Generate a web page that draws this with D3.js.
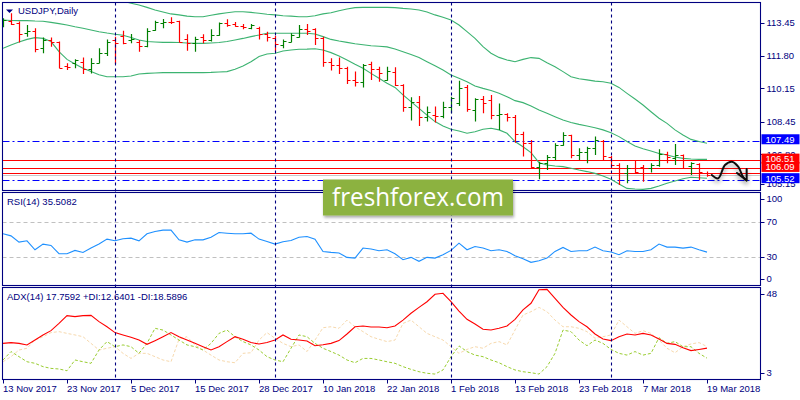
<!DOCTYPE html>
<html>
<head>
<meta charset="utf-8">
<title>USDJPY Daily</title>
<script src="https://cdn.jsdelivr.net/npm/d3@7"></script>
<style>
  body { margin: 0; background: #fff; }
  svg { display: block; font-family: 'Liberation Sans', Arial, sans-serif; }
  .axis-label { fill: #000080; font-size: 9.5px; }
  .panel-title { fill: #000080; font-size: 9.5px; }
  .price-box-label { fill: #fff; font-size: 9.5px; }
</style>
</head>
<body>
<svg id="chart"></svg>
<script>
// Values (13 Nov 2017 - 19 Mar 2018)
const symbolTitle = 'USDJPY,Daily';
const firstDay = '2017-11-13';
const marketHolidays = ['2017-12-25', '2018-01-01'];
const dateTickLabels = ['13 Nov 2017', '23 Nov 2017', '5 Dec 2017', '15 Dec 2017', '28 Dec 2017',
  '10 Jan 2018', '22 Jan 2018', '1 Feb 2018', '13 Feb 2018', '23 Feb 2018', '7 Mar 2018', '19 Mar 2018'];

const opens = [113.40, 113.57, 113.47, 112.93, 113.06, 112.17, 112.59, 112.51, 111.27, 111.41,
  111.49, 111.11, 111.44, 111.92, 112.59, 112.81, 112.59, 112.51, 112.29, 113.10,
  113.47, 113.52, 113.57, 112.62, 112.42, 112.76, 112.59, 112.84, 113.43, 113.40,
  113.32, 113.18, 113.18, 112.88, 112.71, 112.34, 112.51, 112.76, 113.13, 113.13,
  112.67, 111.46, 111.32, 111.16, 110.57, 110.48, 111.38, 111.12, 110.57, 110.99,
  110.31, 109.22, 109.47, 108.71, 108.79, 108.74, 109.18, 109.38, 110.19, 109.05,
  109.59, 109.55, 108.79, 108.85, 108.71, 107.83, 107.36, 106.18, 106.35, 106.69,
  107.28, 107.78, 106.77, 106.94, 107.11, 107.50, 106.69, 106.26, 105.84, 106.10,
  106.18, 106.10, 106.26, 106.82, 106.60, 106.77, 106.23, 106.31, 105.88];
const highs = [113.69, 113.94, 113.52, 113.35, 113.18, 112.71, 112.71, 112.52, 111.41, 111.61,
  111.71, 111.66, 112.17, 112.62, 112.76, 113.06, 112.89, 112.59, 113.18, 113.57,
  113.65, 113.74, 113.57, 112.88, 112.76, 112.88, 113.13, 113.48, 113.64, 113.50,
  113.40, 113.40, 113.26, 113.01, 112.79, 112.62, 112.93, 113.35, 113.40, 113.18,
  112.76, 111.66, 111.71, 111.24, 110.99, 111.38, 111.49, 111.24, 111.24, 111.21,
  110.35, 109.69, 109.76, 109.22, 109.22, 109.47, 109.72, 110.53, 110.31, 109.64,
  109.76, 109.81, 109.38, 108.88, 108.79, 107.95, 107.53, 106.43, 106.77, 107.36,
  107.92, 107.80, 107.11, 107.19, 107.70, 107.53, 106.72, 106.35, 106.26, 106.48,
  106.26, 106.35, 107.06, 106.94, 107.33, 106.80, 106.40, 106.35, 105.93];
const lows = [113.23, 113.35, 112.46, 112.76, 111.97, 111.92, 112.25, 111.16, 111.07, 111.16,
  110.87, 110.90, 111.41, 111.78, 111.38, 112.37, 112.42, 112.00, 112.22, 113.06,
  113.18, 113.40, 112.46, 112.05, 112.00, 112.42, 112.51, 112.81, 113.26, 113.26,
  113.13, 113.13, 112.62, 112.51, 112.00, 112.17, 112.47, 112.72, 112.84, 112.34,
  111.24, 111.04, 110.87, 110.36, 110.23, 110.19, 110.57, 110.48, 110.53, 110.26,
  108.96, 108.51, 108.24, 108.46, 108.41, 108.63, 108.88, 109.25, 108.96, 108.46,
  108.88, 108.58, 108.04, 108.46, 107.39, 106.69, 106.10, 105.54, 106.01, 106.52,
  107.24, 106.60, 106.52, 106.35, 106.77, 106.52, 106.10, 105.25, 105.34, 105.84,
  105.42, 105.88, 106.18, 106.35, 106.26, 106.10, 105.76, 105.51, 105.67];
const closes = [113.60, 113.40, 112.89, 113.06, 112.12, 112.59, 112.51, 111.19, 111.21, 111.58,
  111.11, 111.44, 111.92, 112.51, 112.46, 112.46, 112.62, 112.29, 113.06, 113.52,
  113.52, 113.50, 112.51, 112.42, 112.62, 112.59, 112.84, 113.43, 113.35, 113.30,
  113.23, 113.35, 112.88, 112.76, 112.37, 112.56, 112.84, 113.13, 113.06, 112.67,
  111.46, 111.32, 111.16, 110.57, 110.48, 111.32, 111.12, 110.90, 111.04, 110.31,
  109.22, 109.47, 108.71, 108.96, 108.74, 109.22, 109.64, 110.14, 109.08, 109.59,
  109.38, 108.79, 108.85, 108.71, 107.83, 107.36, 106.18, 106.35, 106.69, 107.28,
  107.78, 106.77, 106.94, 107.11, 107.53, 106.72, 106.26, 105.84, 106.10, 105.93,
  106.10, 106.26, 106.82, 106.69, 106.77, 106.52, 106.35, 105.93, 105.76];

// Bollinger bands as drawn
const bandUpper = [115.04, 114.87, 114.75, 114.66, 114.61, 114.61, 114.65, 114.78, 114.95, 115.04,
  115.09, 115.12, 115.04, 114.87, 114.70, 114.56, 114.45, 114.36, 114.24, 114.11,
  114.01, 113.91, 113.86, 113.80, 113.77, 113.77, 113.84, 113.91, 113.97, 114.02,
  114.02, 113.99, 113.94, 113.89, 113.86, 113.82, 113.80, 113.77, 113.77, 113.82,
  113.91, 113.97, 114.07, 114.16, 114.23, 114.24, 114.24, 114.24, 114.24, 114.23,
  114.19, 114.16, 114.11, 114.01, 113.86, 113.74, 113.60, 113.35, 113.01, 112.67,
  112.25, 111.92, 111.71, 111.58, 111.49, 111.61, 111.70, 111.66, 111.44, 111.24,
  110.99, 110.73, 110.63, 110.57, 110.51, 110.48, 110.40, 110.19, 109.89, 109.60,
  109.30, 108.96, 108.63, 108.37, 108.04, 107.78, 107.56, 107.45, 107.36];
const bandMiddle = [113.60, 113.58, 113.57, 113.57, 113.55, 113.54, 113.48, 113.42, 113.35, 113.26,
  113.18, 113.10, 113.01, 112.94, 112.88, 112.83, 112.72, 112.59, 112.51, 112.49,
  112.47, 112.47, 112.46, 112.44, 112.42, 112.42, 112.44, 112.46, 112.51, 112.59,
  112.67, 112.76, 112.84, 112.93, 112.93, 112.93, 112.93, 112.93, 112.93, 112.89,
  112.76, 112.62, 112.54, 112.47, 112.40, 112.35, 112.30, 112.27, 112.24, 112.13,
  112.00, 111.86, 111.70, 111.49, 111.29, 111.07, 110.82, 110.65, 110.48, 110.26,
  110.14, 110.03, 109.89, 109.72, 109.52, 109.42, 109.25, 109.05, 108.88, 108.71,
  108.54, 108.41, 108.32, 108.24, 108.15, 108.04, 107.90, 107.70, 107.45, 107.23,
  107.09, 106.97, 106.85, 106.77, 106.67, 106.60, 106.57, 106.55, 106.55];
const bandLower = [112.17, 112.34, 112.49, 112.62, 112.71, 112.67, 112.51, 112.00, 111.61, 111.38,
  111.16, 110.99, 110.83, 110.73, 110.73, 110.73, 110.77, 110.87, 110.90, 110.92,
  110.94, 110.94, 110.94, 110.94, 110.94, 110.94, 110.95, 110.97, 110.99, 111.11,
  111.27, 111.49, 111.75, 111.88, 111.92, 112.03, 112.08, 112.12, 112.13, 112.15,
  112.08, 111.95, 111.78, 111.58, 111.36, 111.16, 110.90, 110.65, 110.40, 110.19,
  109.81, 109.47, 109.13, 108.79, 108.46, 108.24, 108.07, 107.98, 107.87, 107.95,
  108.07, 108.12, 108.04, 107.87, 107.45, 107.19, 106.89, 106.38, 106.26, 106.21,
  106.18, 106.10, 106.01, 105.93, 105.84, 105.71, 105.54, 105.30, 105.08, 105.05,
  105.03, 105.08, 105.20, 105.34, 105.45, 105.57, 105.64, 105.62, 105.59];

const rsiValues = [56.2, 53.9, 46.8, 48.3, 38.2, 44.6, 43.1, 33.7, 33.7, 37.5,
  35.2, 40.1, 44.6, 50.2, 48.3, 50.6, 51.3, 48.3, 56.2, 58.8,
  60.3, 60.3, 49.4, 46.8, 49.4, 49.4, 52.4, 57.7, 56.9, 56.2,
  56.2, 56.9, 50.2, 47.6, 44.6, 47.2, 48.7, 52.4, 53.2, 50.2,
  36.3, 35.2, 34.5, 29.6, 28.8, 40.1, 39.0, 37.1, 38.2, 33.7,
  27.0, 29.6, 25.1, 29.6, 28.8, 32.6, 37.5, 45.7, 38.2, 41.9,
  40.1, 37.1, 38.2, 36.3, 31.5, 28.1, 24.0, 25.8, 28.8, 36.3,
  40.8, 36.3, 37.1, 37.1, 41.2, 37.1, 35.6, 32.6, 37.1, 36.3,
  36.3, 38.2, 44.6, 41.2, 41.2, 40.1, 41.2, 38.2, 35.5082];
const adxValues = [20.2, 20.6, 20.2, 19.4, 21.9, 24.5, 26.7, 30.4, 34.4, 33.9,
  34.4, 34.5, 31.3, 28.7, 25.7, 24.5, 23.3, 21.9, 19.7, 21.6,
  23.6, 25.7, 23.6, 21.9, 20.2, 18.5, 16.8, 18.5, 21.1, 23.6,
  22.3, 20.6, 19.9, 20.6, 21.9, 24.5, 22.3, 21.9, 21.4, 19.0,
  19.5, 20.2, 21.6, 25.0, 28.7, 29.1, 28.6, 28.6, 28.2, 29.1,
  32.1, 35.6, 38.6, 41.5, 45.3, 45.8, 41.5, 36.7, 32.5, 30.1,
  27.4, 27.0, 27.9, 29.1, 32.5, 37.3, 40.7, 47.6, 47.8, 43.2,
  38.6, 34.7, 31.3, 28.7, 25.0, 22.4, 21.6, 23.6, 25.0, 24.5,
  25.3, 24.5, 22.4, 20.2, 19.7, 18.0, 16.5, 17.1, 17.7592];
const plusDiValues = [11.7, 16.0, 13.4, 10.8, 10.0, 8.3, 7.4, 7.1, 6.2, 11.7,
  10.8, 10.0, 16.8, 21.1, 18.5, 19.4, 18.5, 15.1, 20.2, 27.9,
  27.0, 24.5, 21.9, 19.4, 18.5, 16.8, 20.2, 25.3, 27.0, 23.6,
  21.1, 19.4, 16.8, 13.4, 11.7, 10.8, 17.7, 24.5, 23.6, 20.2,
  17.7, 16.0, 14.2, 11.7, 10.3, 12.5, 12.5, 11.7, 10.8, 10.0,
  8.3, 6.9, 5.7, 4.9, 4.5, 6.6, 13.4, 18.9, 16.0, 14.2,
  13.4, 11.7, 10.3, 8.3, 6.6, 5.7, 5.2, 4.5, 8.3, 15.1,
  27.0, 26.2, 21.9, 19.0, 21.9, 20.2, 17.1, 15.1, 14.2, 16.0,
  14.2, 15.1, 23.1, 20.2, 21.1, 18.5, 18.5, 15.1, 12.6401];
const minusDiValues = [10.8, 13.4, 16.8, 17.7, 21.9, 23.6, 25.7, 26.2, 25.3, 24.5,
  23.6, 20.2, 16.8, 17.7, 18.5, 15.1, 12.5, 15.1, 15.1, 13.4,
  11.7, 10.8, 22.3, 23.6, 19.4, 16.8, 14.2, 11.7, 10.8, 10.3,
  15.1, 15.4, 21.9, 25.7, 22.8, 20.2, 18.5, 19.4, 16.0, 21.9,
  28.2, 28.7, 27.9, 32.1, 28.7, 26.2, 23.6, 22.3, 21.1, 21.9,
  30.4, 32.1, 28.7, 25.3, 23.6, 21.9, 18.5, 15.1, 17.1, 18.5,
  17.7, 20.2, 21.1, 19.4, 27.0, 34.7, 36.4, 38.6, 36.4, 32.1,
  28.7, 28.7, 27.9, 26.2, 22.8, 23.6, 24.5, 32.1, 28.7, 25.3,
  26.7, 25.3, 21.9, 17.7, 15.4, 18.5, 19.9, 20.6, 18.5896];

// horizontal levels drawn by the analyst
const supportResistance = [107.49, 105.52];   // blue dash-dot
const redLevels = [106.51, 106.09, 105.88];   // red solid
const labelledRedLevels = [106.51, 106.09];

// axis ticks
const priceTicks = [113.45, 111.80, 110.15, 108.45, 106.80, 105.15];
const priceDomain = [105.15, 113.45];
const rsiTicks = [100, 70, 30, 0];
const rsiLevels = [70, 30];
const adxTicks = [48, 3];

// hand drawn forecast arrow: bar position / price
const sketchIdx = [88.6, 89.4, 90.25, 91.1, 91.9, 92.5, 92.96];
const sketchPrice = [105.76, 105.59, 106.26, 106.43, 106.18, 105.67, 105.48];
const sketchHeadIdx = [91.75, 92.96, 92.96];
const sketchHeadPrice = [105.86, 105.48, 106.06];

class TerminalChart {
  constructor(_config) {
    this.config = {
      parentElement: _config.parentElement,
      containerWidth: 800,
      containerHeight: 400,
      left: 2.5,
      right: 760.5,
      firstBarX: 3,
      barStep: 8,
      tick: 3,
      price: {top: 2.5, bottom: 190.5, range: [187, 23]},
      rsi: {top: 192.5, bottom: 285.5, range: [283.6, 195]},
      adx: {top: 287.5, bottom: 379.5, range: [377, 289]},
      navy: '#000080'
    };
    this.initVis();
  }

  initVis() {
    let vis = this;
    const c = vis.config;

    vis.svg = d3.select(c.parentElement)
      .attr('width', c.containerWidth)
      .attr('height', c.containerHeight);

    const defs = vis.svg.append('defs');
    ['price', 'rsi', 'adx'].forEach(k => {
      defs.append('clipPath').attr('id', `clip-${k}`)
        .append('rect')
        .attr('x', c.left + 0.5).attr('y', c[k].top + 0.5)
        .attr('width', c.right - c.left - 1).attr('height', c[k].bottom - c[k].top - 1);
    });
    const shadow = defs.append('filter').attr('id', 'soft-shadow')
      .attr('x', '-20%').attr('y', '-20%').attr('width', '140%').attr('height', '160%');
    shadow.append('feDropShadow').attr('dx', 1).attr('dy', 2)
      .attr('stdDeviation', 1.6).attr('flood-color', '#000').attr('flood-opacity', 0.35);
    const blurShadow = defs.append('filter').attr('id', 'pen-shadow')
      .attr('x', '-30%').attr('y', '-40%').attr('width', '160%').attr('height', '200%');
    blurShadow.append('feDropShadow').attr('dx', 0).attr('dy', 3)
      .attr('stdDeviation', 2.2).attr('flood-color', '#000').attr('flood-opacity', 0.4);

    // trading days (weekdays without the two closed sessions)
    const parseIso = d3.timeParse('%Y-%m-%d');
    const fmtIso = d3.timeFormat('%Y-%m-%d');
    vis.days = [];
    let d = parseIso(firstDay);
    while (vis.days.length < closes.length) {
      const wd = d.getDay();
      if (wd !== 0 && wd !== 6 && !marketHolidays.includes(fmtIso(d))) vis.days.push(d);
      d = d3.timeDay.offset(d, 1);
    }
    const parseLabel = d3.timeParse('%d %b %Y');
    vis.tickIndex = dateTickLabels.map(l => {
      const key = fmtIso(parseLabel(l));
      return vis.days.findIndex(day => fmtIso(day) === key);
    });
    vis.monthStarts = d3.range(1, vis.days.length)
      .filter(i => vis.days[i].getMonth() !== vis.days[i - 1].getMonth());

    vis.x = d3.scaleLinear()
      .domain([0, closes.length - 1])
      .range([c.firstBarX, c.firstBarX + c.barStep * (closes.length - 1)]);
    vis.yPrice = d3.scaleLinear().domain(priceDomain).range(c.price.range);
    vis.yRsi = d3.scaleLinear().domain([0, 100]).range(c.rsi.range);
    vis.yAdx = d3.scaleLinear().domain([3, 48]).range(c.adx.range);

    vis.renderVis();
  }

  renderVis() {
    let vis = this;
    const c = vis.config;
    const snap = v => Math.round(v) + 0.5;

    // panel frames
    ['price', 'rsi', 'adx'].forEach(k => {
      vis.svg.append('rect')
        .attr('x', c.left).attr('y', c[k].top)
        .attr('width', c.right - c.left).attr('height', c[k].bottom - c[k].top)
        .attr('fill', 'none').attr('stroke', c.navy).attr('stroke-width', 1.1);
    });

    // ---------- price panel ----------
    const main = vis.svg.append('g').attr('clip-path', 'url(#clip-price)');

    main.selectAll('.level-red')
      .data(redLevels)
      .join('line')
      .attr('class', 'level-red')
      .attr('x1', c.left).attr('x2', c.right)
      .attr('y1', d => snap(vis.yPrice(d))).attr('y2', d => snap(vis.yPrice(d)))
      .attr('stroke', '#ff0000').attr('stroke-width', 1.2);

    main.append('line')
      .attr('x1', c.left).attr('x2', c.right)
      .attr('y1', snap(vis.yPrice(closes[closes.length - 1])))
      .attr('y2', snap(vis.yPrice(closes[closes.length - 1])))
      .attr('stroke', '#c8c8c8').attr('stroke-width', 1);

    main.selectAll('.level-blue')
      .data(supportResistance)
      .join('line')
      .attr('class', 'level-blue')
      .attr('x1', c.left).attr('x2', c.right)
      .attr('y1', d => snap(vis.yPrice(d))).attr('y2', d => snap(vis.yPrice(d)))
      .attr('stroke', '#0000ff').attr('stroke-width', 1.2)
      .attr('stroke-dasharray', '7,3,2,3');

    // bollinger bands
    const bandLine = d3.line().x((d, i) => vis.x(i)).y(d => vis.yPrice(d));
    [bandUpper, bandMiddle, bandLower].forEach(series => {
      main.append('path')
        .attr('d', bandLine(series))
        .attr('fill', 'none').attr('stroke', '#3cb371').attr('stroke-width', 1.1);
    });

    // OHLC bars
    const bars = d3.range(closes.length).map(i => ({i, o: opens[i], h: highs[i], l: lows[i], cl: closes[i]}));
    main.selectAll('.bar')
      .data(bars)
      .join('path')
      .attr('class', 'bar')
      .attr('d', d => {
        const bx = snap(vis.x(d.i));
        return `M${bx},${vis.yPrice(d.h)}V${vis.yPrice(d.l)}` +
          `M${bx - c.tick},${snap(vis.yPrice(d.o))}H${bx}` +
          `M${bx},${snap(vis.yPrice(d.cl))}H${bx + c.tick}`;
      })
      .attr('fill', 'none')
      .attr('stroke', d => d.cl >= d.o ? '#007f00' : '#ff0000')
      .attr('stroke-width', 1.2);

    // hand drawn arrow
    const pen = main.append('g').attr('filter', 'url(#pen-shadow)');
    const penLine = d3.line().curve(d3.curveCatmullRom).x(d => vis.x(d[0])).y(d => vis.yPrice(d[1]));
    pen.append('path')
      .attr('d', penLine(d3.zip(sketchIdx, sketchPrice)))
      .attr('fill', 'none').attr('stroke', '#111').attr('stroke-width', 2)
      .attr('stroke-linecap', 'round');
    pen.append('path')
      .attr('d', d3.line().x(d => vis.x(d[0])).y(d => vis.yPrice(d[1]))(d3.zip(sketchHeadIdx, sketchHeadPrice)))
      .attr('fill', 'none').attr('stroke', '#111').attr('stroke-width', 2)
      .attr('stroke-linecap', 'round').attr('stroke-linejoin', 'round');

    // ---------- RSI panel ----------
    const rsiG = vis.svg.append('g').attr('clip-path', 'url(#clip-rsi)');
    rsiG.selectAll('.rsi-level')
      .data(rsiLevels)
      .join('line')
      .attr('class', 'rsi-level')
      .attr('x1', c.left).attr('x2', c.right)
      .attr('y1', d => snap(vis.yRsi(d))).attr('y2', d => snap(vis.yRsi(d)))
      .attr('stroke', '#c0c0c0').attr('stroke-dasharray', '4,3');
    rsiG.append('path')
      .attr('d', d3.line().x((d, i) => vis.x(i)).y(d => vis.yRsi(d))(rsiValues))
      .attr('fill', 'none').attr('stroke', '#1e90ff').attr('stroke-width', 1.1);

    // ---------- ADX panel ----------
    const adxG = vis.svg.append('g').attr('clip-path', 'url(#clip-adx)');
    const adxLine = d3.line().x((d, i) => vis.x(i)).y(d => vis.yAdx(d));
    adxG.append('path')
      .attr('d', adxLine(minusDiValues))
      .attr('fill', 'none').attr('stroke', '#f7d9ad').attr('stroke-width', 1)
      .attr('stroke-dasharray', '3,2');
    adxG.append('path')
      .attr('d', adxLine(plusDiValues))
      .attr('fill', 'none').attr('stroke', '#9acd32').attr('stroke-width', 1)
      .attr('stroke-dasharray', '3,2');
    adxG.append('path')
      .attr('d', adxLine(adxValues))
      .attr('fill', 'none').attr('stroke', '#ff0000').attr('stroke-width', 1.1);

    // month separators across all panels
    vis.svg.selectAll('.sep')
      .data(vis.monthStarts)
      .join('line')
      .attr('class', 'sep')
      .attr('x1', d => snap(vis.x(d))).attr('x2', d => snap(vis.x(d)))
      .attr('y1', c.price.top).attr('y2', c.adx.bottom)
      .attr('stroke', c.navy).attr('stroke-width', 1.1)
      .attr('stroke-dasharray', '3,3');

    // ---------- right axes ----------
    const axisX = c.right;
    const addAxis = (ticks, scale, panel) => {
      const g = vis.svg.append('g');
      const pos = v => Math.max(panel.top + 6.5, Math.min(panel.bottom - 6.5, scale(v)));
      g.selectAll('line').data(ticks).join('line')
        .attr('x1', axisX).attr('x2', axisX + 4)
        .attr('y1', d => snap(pos(d))).attr('y2', d => snap(pos(d)))
        .attr('stroke', c.navy);
      g.selectAll('text').data(ticks).join('text')
        .attr('class', 'axis-label')
        .attr('x', axisX + 6).attr('y', d => pos(d)).attr('dy', '0.35em')
        .text(d => panel === c.price ? d3.format('.2f')(d) : d);
    };
    addAxis(priceTicks, vis.yPrice, c.price);
    addAxis(rsiTicks, vis.yRsi, c.rsi);
    addAxis(adxTicks, vis.yAdx, c.adx);

    // price boxes for the drawn levels
    const boxes = [
      {v: supportResistance[0], fill: '#0000ff'},
      ...labelledRedLevels.map(v => ({v, fill: '#ff0000'})),
      {v: supportResistance[1], fill: '#0000ff'}
    ];
    const boxG = vis.svg.append('g');
    boxes.forEach(b => {
      const by = vis.yPrice(b.v) - 1.5;
      boxG.append('rect')
        .attr('x', axisX + 1).attr('y', by - 5).attr('width', 38).attr('height', 10)
        .attr('fill', b.fill);
      boxG.append('text')
        .attr('class', 'price-box-label')
        .attr('x', axisX + 5).attr('y', by).attr('dy', '0.35em')
        .text(d3.format('.2f')(b.v));
    });

    // ---------- date axis ----------
    const dateG = vis.svg.append('g');
    dateG.selectAll('line').data(vis.tickIndex).join('line')
      .attr('x1', d => snap(vis.x(d))).attr('x2', d => snap(vis.x(d)))
      .attr('y1', c.adx.bottom).attr('y2', c.adx.bottom + 4)
      .attr('stroke', c.navy);
    dateG.selectAll('text').data(dateTickLabels).join('text')
      .attr('class', 'axis-label')
      .attr('x', (d, i) => vis.x(vis.tickIndex[i]))
      .attr('y', c.adx.bottom + 9).attr('dy', '0.35em')
      .text(d => d);

    // ---------- panel captions ----------
    vis.svg.append('path')
      .attr('d', 'M6,9.5H13L9.5,13Z')
      .attr('fill', c.navy);
    vis.svg.append('text').attr('class', 'panel-title')
      .attr('x', 18).attr('y', 11).attr('dy', '0.35em').text(symbolTitle);
    vis.svg.append('text').attr('class', 'panel-title')
      .attr('x', 7).attr('y', c.rsi.top + 9).attr('dy', '0.35em')
      .text(`RSI(14) ${d3.format('.4f')(rsiValues[rsiValues.length - 1])}`);
    vis.svg.append('text').attr('class', 'panel-title')
      .attr('x', 7).attr('y', c.adx.top + 9).attr('dy', '0.35em')
      .text(`ADX(14) ${d3.format('.4f')(adxValues[adxValues.length - 1])} ` +
        `+DI:${d3.format('.4f')(plusDiValues[plusDiValues.length - 1])} ` +
        `-DI:${d3.format('.4f')(minusDiValues[minusDiValues.length - 1])}`);

    // ---------- watermark ----------
    const logo = vis.svg.append('g');
    logo.append('rect')
      .attr('x', 323).attr('y', 179.5).attr('width', 190).attr('height', 36)
      .attr('fill', '#8cb240').attr('filter', 'url(#soft-shadow)');
    logo.append('text')
      .attr('x', 332).attr('y', 206)
      .attr('textLength', 172).attr('lengthAdjust', 'spacingAndGlyphs')
      .attr('fill', '#fff')
      .style('font-family', '"Open Sans", "DejaVu Sans", sans-serif')
      .style('font-size', '26px')
      .text('freshforex.com');
  }
}

new TerminalChart({parentElement: '#chart'});
</script>
</body>
</html>
